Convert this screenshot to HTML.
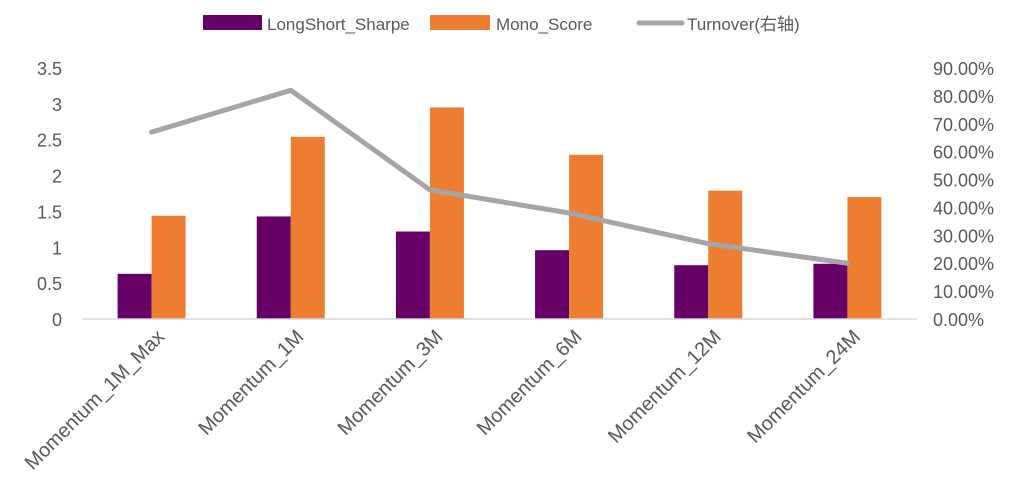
<!DOCTYPE html>
<html><head><meta charset="utf-8"><style>
html,body{margin:0;padding:0;background:#fff}
svg text{font-family:"Liberation Sans","Noto Sans CJK SC",sans-serif;fill:#595959}
</style></head><body>
<svg id="chart" width="1017" height="486" viewBox="0 0 1017 486" xmlns="http://www.w3.org/2000/svg">
<g>
<rect x="203" y="15" width="59" height="15" fill="#660066"/>
<text x="267" y="30" font-size="17">LongShort_Sharpe</text>
<rect x="430" y="15" width="60" height="15" fill="#ed7d31"/>
<text x="496" y="30" font-size="17">Mono_Score</text>
<line x1="639" y1="23" x2="682" y2="23" stroke="#a5a5a5" stroke-width="5" stroke-linecap="round"/>
<text x="687" y="30" font-size="17">Turnover(右轴)</text>
</g>
<g id="plot"></g>
</svg>
<script>
const categories=["Momentum_1M_Max","Momentum_1M","Momentum_3M","Momentum_6M","Momentum_12M","Momentum_24M"];
const sharpe=[0.63,1.43,1.22,0.96,0.75,0.77];
const mono=[1.44,2.54,2.95,2.29,1.79,1.70];
const turnover=[0.67,0.82,0.463,0.38,0.27,0.20];
const leftTicks=[0,0.5,1,1.5,2,2.5,3,3.5];
const rightTicks=[0,0.1,0.2,0.3,0.4,0.5,0.6,0.7,0.8,0.9];
const NS="http://www.w3.org/2000/svg";
const g=document.getElementById('plot');
const x0=82,x1=917,y0=319,yTop=68;
const band=(x1-x0)/categories.length;
const yL=v=>y0-(v/3.5)*(y0-yTop);
const yR=v=>y0-(v/0.9)*(y0-yTop);
const cx=i=>x0+band*(i+0.5);
function mk(t,a){const e=document.createElementNS(NS,t);for(const k in a)e.setAttribute(k,a[k]);g.appendChild(e);return e;}
leftTicks.forEach(v=>{const t=mk('text',{x:62,y:yL(v)+7,'text-anchor':'end','font-size':18});


t.textContent=String(v);});
rightTicks.forEach(v=>{const t=mk('text',{x:933,y:yR(v)+7,'font-size':18});


t.textContent=(v*100).toFixed(2)+'%';});
const bw=34;
categories.forEach((c,i)=>{
 const a=mk('rect',{x:cx(i)-bw,y:yL(sharpe[i]),width:bw,height:y0-yL(sharpe[i]),fill:'#660066'});
 
 
 const b=mk('rect',{x:cx(i),y:yL(mono[i]),width:bw,height:y0-yL(mono[i]),fill:'#ed7d31'});
 
 
 const t=mk('text',{x:cx(i)+14,y:338,'text-anchor':'end','font-size':20,transform:`rotate(-45 ${cx(i)+14} 338)`});
 
 
 t.textContent=c;
});
const ax=mk('line',{x1:x0,y1:y0,x2:x1,y2:y0,stroke:'#d9d9d9','stroke-width':1.5});


const pl=mk('polyline',{points:turnover.map((v,i)=>cx(i)+','+yR(v)).join(' '),fill:'none',stroke:'#a5a5a5','stroke-width':5,'stroke-linejoin':'round','stroke-linecap':'round'});


</script>
</body></html>
